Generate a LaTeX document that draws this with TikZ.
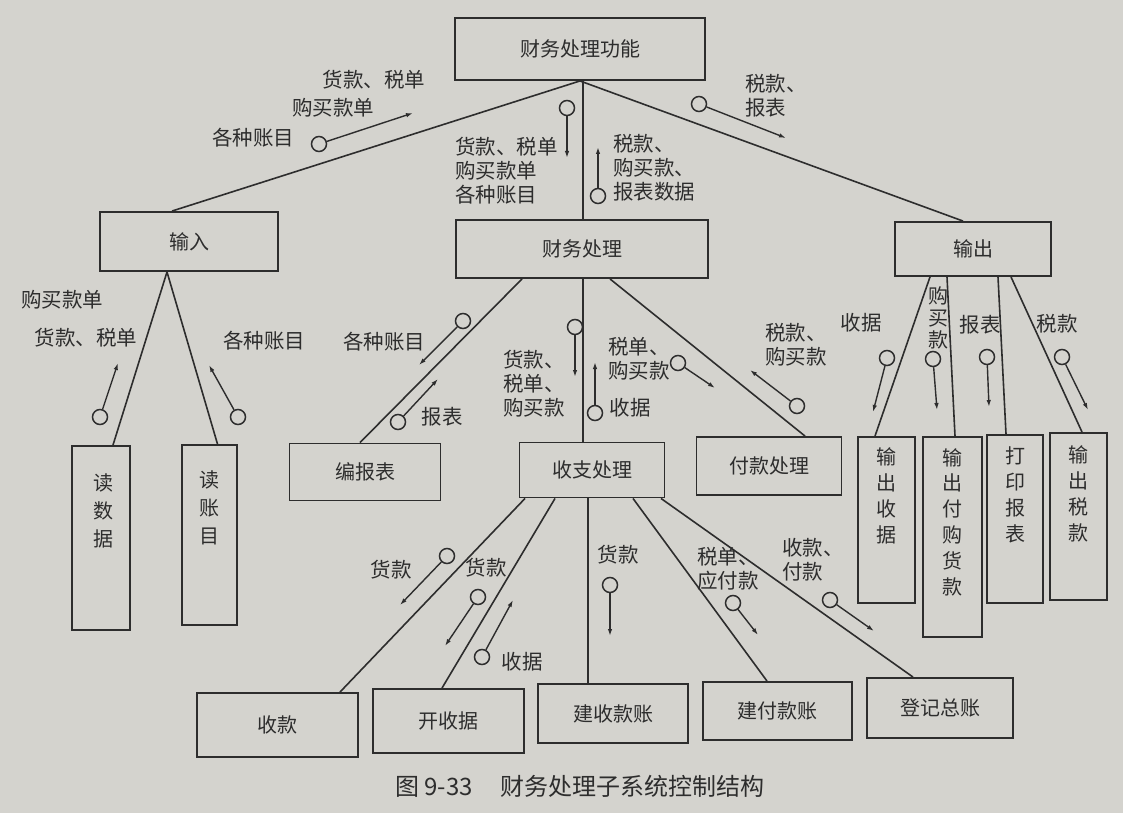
\documentclass[tikz,border=0pt]{standalone}
\usepackage{fontspec}
\newfontfamily\cjk{Noto Sans CJK SC}
\usetikzlibrary{arrows.meta}
\definecolor{paper}{RGB}{212,211,206}
\definecolor{ink}{RGB}{45,45,45}
\newcommand{\boxfont}{\cjk\fontsize{20}{24}\selectfont}
\newcommand{\lblfont}{\cjk\fontsize{20.5}{24}\selectfont}
% data couple: open circle at the tail, arrow head at the other end
\newcommand{\dcouple}[3]{%
  \node[dcirc] (#1) at (#2) {};
  \coordinate (#1h) at (#3);
  \draw[dflow] (#1) -- (#1h);}

\begin{document}
\begin{tikzpicture}[x=1pt,y=-1pt,
  every node/.style={text=ink},
  modbox/.style={draw=ink, line width=1.9pt, rectangle, inner sep=0pt, font=\boxfont},
  link/.style={draw=ink, line width=1.6pt},
  dcirc/.style={draw=ink, circle, line width=1.5pt, minimum size=15pt, inner sep=0pt},
  dflow/.style={draw=ink, line width=1.4pt, -{Latex[length=7pt,width=4.5pt]}},
  lbl/.style={font=\lblfont, inner sep=0pt},
  lblL/.style={font=\lblfont, inner sep=0pt, align=left, anchor=west},
  vtxtA/.style={font=\cjk\fontsize{20}{28}\selectfont, align=center, inner sep=0pt},
  vtxtB/.style={font=\cjk\fontsize{20}{25.8}\selectfont, align=center, inner sep=0pt},
]
\fill[paper] (0,0) rectangle (1123,813);
\useasboundingbox (0,0) rectangle (1123,813);

% ---- modules ----
\node[modbox, minimum width=250pt, minimum height=62pt] (gn) at (580,49) {财务处理功能};
\node[modbox, minimum width=178pt, minimum height=59pt] (sr) at (189,241.5) {输入};
\node[modbox, minimum width=252pt, minimum height=58pt] (cl) at (582,249) {财务处理};
\node[modbox, minimum width=156pt, minimum height=54pt] (sc) at (973,249) {输出};

\node[modbox, minimum width=58pt, minimum height=184pt] (dsj) at (101,538) {};
\node[vtxtA] (dsjt) at (103,511) {读\\数\\据};
\node[modbox, minimum width=55pt, minimum height=180pt] (dzm) at (209.5,535) {};
\node[vtxtA] (dzmt) at (209.5,508) {读\\账\\目};

\node[modbox, minimum width=151pt, minimum height=57pt] (bbb) at (365,472) {编报表};
\node[modbox, minimum width=145pt, minimum height=55pt] (szcl) at (592,470) {收支处理};
\node[modbox, minimum width=145pt, minimum height=58pt] (fkcl) at (769,466) {付款处理};

\node[modbox, minimum width=57pt, minimum height=166pt] (scsj) at (886.5,520) {};
\node[vtxtB] (scsjt) at (886.5,496) {输\\出\\收\\据};
\node[modbox, minimum width=59pt, minimum height=200pt] (scfg) at (952.5,537) {};
\node[vtxtB] (scfgt) at (952.5,522) {输\\出\\付\\购\\货\\款};
\node[modbox, minimum width=56pt, minimum height=168pt] (dybb) at (1015,519) {};
\node[vtxtB] (dybbt) at (1015,495) {打\\印\\报\\表};
\node[modbox, minimum width=57pt, minimum height=167pt] (scsk) at (1078.5,516.5) {};
\node[vtxtB] (scskt) at (1078.5,494) {输\\出\\税\\款};

\node[modbox, minimum width=161pt, minimum height=64pt] (sk) at (277.5,725) {收款};
\node[modbox, minimum width=151pt, minimum height=64pt] (ksj) at (448.5,721) {开收据};
\node[modbox, minimum width=150pt, minimum height=59pt] (jsk) at (613,713.5) {建收款账};
\node[modbox, minimum width=149pt, minimum height=58pt] (jfk) at (777.5,711) {建付款账};
\node[modbox, minimum width=146pt, minimum height=60pt] (djzz) at (940,708) {登记总账};

% ---- calls ----
\draw[link] (gn.south) -- ([xshift=-17pt]sr.north);
\draw[link] ([xshift=3pt]gn.south) -- ([xshift=3pt]gn.south |- cl.north);
\draw[link] (gn.south) -- ([xshift=-10pt]sc.north);

\draw[link] ([xshift=-22pt]sr.south) -- ([xshift=12pt]dsj.north);
\draw[link] ([xshift=-22pt]sr.south) -- ([xshift=8pt]dzm.north);

\draw[link] ([xshift=-60pt]cl.south) -- ([xshift=-5pt]bbb.north);
\draw[link] ([xshift=1pt]cl.south) -- ([xshift=1pt]cl.south |- szcl.north);
\draw[link] ([xshift=28pt]cl.south) -- ([xshift=36pt]fkcl.north);

\draw[link] ([xshift=-43pt]sc.south) -- ([xshift=-11.5pt]scsj.north);
\draw[link] ([xshift=-26pt]sc.south) -- ([xshift=2.5pt]scfg.north);
\draw[link] ([xshift=25pt]sc.south) -- ([xshift=-9pt]dybb.north);
\draw[link] ([xshift=38pt]sc.south) -- ([xshift=3.5pt]scsk.north);

\draw[link] ([xshift=-67pt]szcl.south) -- ([xshift=62.5pt]sk.north);
\draw[link] ([xshift=-37pt]szcl.south) -- ([xshift=-6.5pt]ksj.north);
\draw[link] ([xshift=-4pt]szcl.south) -- ([xshift=-4pt]szcl.south |- jsk.north);
\draw[link] ([xshift=41pt]szcl.south) -- ([xshift=-10.5pt]jfk.north);
\draw[link] ([xshift=69pt]szcl.south) -- ([xshift=-27pt]djzz.north);

% ---- data couples ----
\dcouple{c1}{319,144}{413,113}
\dcouple{c2}{567,108}{567,158}
\dcouple{c3}{598,196}{598,147}
\dcouple{c4}{699,104}{786,138}
\dcouple{c5}{100,417}{118,363}
\dcouple{c6}{238,417}{209,365}
\dcouple{c7}{463,321}{419,365}
\dcouple{c8}{398,422}{438,379}
\dcouple{c9}{575,327}{575,377}
\dcouple{c10}{595,413}{595,362}
\dcouple{c11}{678,363}{715,388}
\dcouple{c12}{797,406}{750,370}
\dcouple{c13}{887,358}{873,412}
\dcouple{c14}{933,359}{937,410}
\dcouple{c15}{987,357}{989,407}
\dcouple{c16}{1062,357}{1088,410}
\dcouple{c17}{447,556}{400,605}
\dcouple{c18}{478,597}{445,646}
\dcouple{c19}{482,657}{513,600}
\dcouple{c20}{610,585}{610,636}
\dcouple{c21}{733,603}{758,635}
\dcouple{c22}{830,600}{874,631}

% ---- couple labels ----
\node[lbl] (t1a) at (374,80) {货款、税单};
\node[lbl] (t1b) at (333,108) {购买款单};
\node[lbl] (t1c) at (253,138) {各种账目};
\node[lblL] (t2) at (455,171) {货款、税单\\购买款单\\各种账目};
\node[lblL] (t3) at (613,168) {税款、\\购买款、\\报表数据};
\node[lblL] (t4) at (745,96) {税款、\\报表};
\node[lbl] (t5a) at (62,300) {购买款单};
\node[lbl] (t5b) at (86,338) {货款、税单};
\node[lbl] (t6) at (264,341) {各种账目};
\node[lbl] (t7) at (384,342) {各种账目};
\node[lbl] (t8) at (442,417) {报表};
\node[lblL] (t9) at (503,384) {货款、\\税单、\\购买款};
\node[lbl] (t10) at (630,408) {收据};
\node[lblL] (t11) at (608,359) {税单、\\购买款};
\node[lblL] (t12) at (765,345) {税款、\\购买款};
\node[lbl] (t13) at (861,323) {收据};
\node[vtxtB, font=\cjk\fontsize{20}{22}\selectfont] (t14) at (938,318) {购\\买\\款};
\node[lbl] (t15) at (980,325) {报表};
\node[lbl] (t16) at (1057,324) {税款};
\node[lbl] (t17) at (391,570) {货款};
\node[lbl] (t18) at (486,568) {货款};
\node[lbl] (t19) at (522,662) {收据};
\node[lbl] (t20) at (618,555) {货款};
\node[lblL] (t21) at (697,569) {税单、\\应付款};
\node[lblL] (t22) at (782,560) {收款、\\付款};

% ---- caption ----
\node[font=\cjk\fontsize{24}{28}\selectfont, inner sep=0pt] (cap) at (580,786) {图 9-33\hspace{28pt}财务处理子系统控制结构};
\end{tikzpicture}
\end{document}
